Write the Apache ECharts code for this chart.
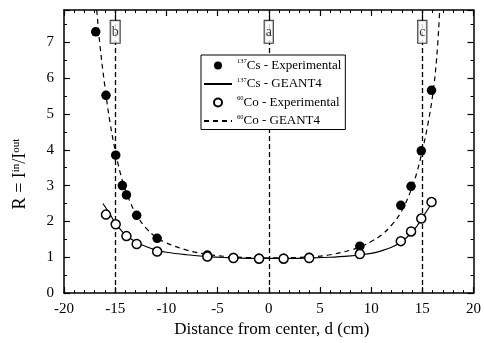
<!DOCTYPE html>
<html>
<head>
<meta charset="utf-8">
<script src="https://cdn.jsdelivr.net/npm/echarts@6/dist/echarts.min.js"></script>
<style>html,body{margin:0;padding:0;background:#fff}#c{width:484px;height:343px}</style>
</head>
<body>
<div id="c"></div>
<script>
// Experimental data
var csExp = [[-16.9,7.29],[-15.9,5.52],[-14.95,3.85],[-14.3,3.0],[-13.9,2.74],[-12.9,2.17],[-10.9,1.53],[-6.0,1.06],[-3.45,0.99],[-0.95,0.97],[1.45,0.97],[3.95,1.0],[8.9,1.31],[12.9,2.45],[13.9,2.98],[14.9,3.97],[15.9,5.66]];
var coExp = [[-15.9,2.19],[-14.95,1.92],[-13.9,1.59],[-12.9,1.37],[-10.9,1.16],[-6.0,1.02],[-3.45,0.98],[-0.95,0.96],[1.45,0.96],[3.95,0.98],[8.9,1.09],[12.9,1.45],[13.9,1.72],[14.9,2.08],[15.9,2.54]];
// GEANT4 curves
var solidCurve = [[-16.2,2.5],[-15.5,2.2],[-15,1.96],[-14.5,1.78],[-14,1.63],[-13,1.43],[-12,1.3],[-11,1.2],[-10,1.14],[-8,1.07],[-6,1.02],[-4,0.99],[-2,0.97],[0,0.97],[2,0.97],[4,0.98],[6,1.0],[8,1.04],[9,1.07],[10,1.11],[11,1.18],[12,1.28],[13,1.44],[14,1.7],[14.5,1.88],[15,2.1],[15.5,2.32],[16,2.55]];
var dashedCurve = [[-16.8,7.9],[-16.5,6.95],[-16,5.75],[-15.5,4.75],[-15,3.98],[-14.5,3.35],[-14,2.88],[-13,2.22],[-12,1.82],[-11,1.56],[-10,1.4],[-8,1.2],[-6,1.08],[-4,1.02],[-2,0.99],[0,0.98],[2,0.99],[4,1.01],[6,1.07],[8,1.2],[9,1.3],[10,1.44],[11,1.62],[12,1.9],[13,2.3],[14,2.95],[14.5,3.4],[15,3.97],[15.5,4.65],[16,5.5],[16.4,6.55],[16.7,7.9]];
var markX = [-15, 0, 15];
var markLbl = ['b', 'a', 'c'];
var legendNames = ['137Cs - Experimental', '137Cs - GEANT4', '60Co - Experimental', '60Co - GEANT4'];
var xTicks = [-20, 20, 5];
var yTicks = [0, 7.9, 1];

var serif = 'Liberation Serif';
var chart = echarts.init(document.getElementById('c'));
var labels = markX.map(function (x, i) { return { value: [x, 7.29], lbl: markLbl[i] }; });
function axisBase(split) {
  return {
    axisLine: { onZero: false, lineStyle: { color: '#000', width: 1.5 } },
    axisTick: { inside: true, length: 6, lineStyle: { color: '#000', width: 1.2 } },
    minorTick: { show: true, splitNumber: split, length: 3, lineStyle: { color: '#000', width: 1 } },
    splitLine: { show: false }
  };
}
function sup(name) {
  var m = name.match(/^(\d+)(.*)$/);
  return '{s|' + m[1] + '}{t|' + m[2] + '}';
}
chart.setOption({
  animation: false,
  backgroundColor: '#fff',
  grid: { left: 64, right: 5, top: 10, bottom: 45 },
  legend: {
    orient: 'vertical', left: 201, top: 55, z: 20,
    backgroundColor: '#fff', borderColor: '#000', borderWidth: 1,
    padding: [3, 4, 1, 2], itemGap: 3.5, itemWidth: 28, itemHeight: 8,
    data: legendNames,
    formatter: sup,
    textStyle: {
      fontFamily: serif, color: '#000', fontSize: 13, lineHeight: 15,
      rich: {
        s: { fontSize: 6.5, fontFamily: serif, color: '#000', verticalAlign: 'top', lineHeight: 15, padding: [0, 0, 6, 0] },
        t: { fontSize: 13, fontFamily: serif, color: '#000', lineHeight: 15 }
      }
    }
  },
  graphic: [{
    type: 'text', x: 20, y: 174, rotation: Math.PI / 2, silent: true,
    style: {
      text: 'R = I{s|in}/I{s|out}', fontFamily: serif, fontSize: 18, fill: '#000',
      align: 'center', verticalAlign: 'middle',
      rich: { s: { fontFamily: serif, fontSize: 11, fill: '#000', verticalAlign: 'top', padding: [0, 0, 8, 0] } }
    }
  }],
  xAxis: [
    Object.assign({ type: 'value', min: xTicks[0], max: xTicks[1], interval: xTicks[2],
      name: 'Distance from center, d (cm)', nameLocation: 'middle', nameGap: 25,
      nameTextStyle: { fontFamily: serif, fontSize: 17, color: '#000', padding: [0, 0, 0, 6] },
      axisLabel: { fontFamily: serif, fontSize: 15, color: '#000', margin: 8 } }, axisBase(5)),
    Object.assign({ type: 'value', position: 'top', min: xTicks[0], max: xTicks[1], interval: xTicks[2], axisLabel: { show: false } }, axisBase(5))
  ],
  yAxis: [
    Object.assign({ type: 'value', min: yTicks[0], max: yTicks[1], interval: yTicks[2],
      axisLabel: { fontFamily: serif, fontSize: 15, color: '#000', margin: 10,
        formatter: function (v) { return Math.abs(v - Math.round(v)) < 1e-6 ? String(Math.round(v)) : ''; } } },
      axisBase(2)),
    Object.assign({ type: 'value', position: 'right', min: yTicks[0], max: yTicks[1], interval: yTicks[2], axisLabel: { show: false } },
      axisBase(2))
  ],
  series: [
    { name: 'guides', type: 'line', data: [], silent: true, z: 1,
      markLine: { silent: true, symbol: 'none', label: { show: false }, z: 1,
        lineStyle: { color: '#000', type: [5, 3], width: 1.3 },
        data: markX.map(function (x) { return { xAxis: x }; }) } },
    { name: legendNames[1], type: 'line', data: solidCurve, smooth: 0.4, symbol: 'none',
      lineStyle: { color: '#000', width: 1.2 }, itemStyle: { color: '#000', opacity: 0 }, z: 3 },
    { name: legendNames[3], type: 'line', data: dashedCurve, smooth: 0.4, symbol: 'none',
      lineStyle: { color: '#000', width: 1.2, type: [5, 4] }, itemStyle: { color: '#000', opacity: 0 }, z: 3 },
    { name: legendNames[0], type: 'scatter', data: csExp, symbol: 'circle', symbolSize: 9.5,
      itemStyle: { color: '#000', opacity: 1 }, z: 4 },
    { name: legendNames[2], type: 'scatter', data: coExp, symbol: 'circle', symbolSize: 9,
      itemStyle: { color: '#fff', borderColor: '#000', borderWidth: 1.5, opacity: 1 }, z: 5 },
    { name: 'boxes', type: 'scatter', data: labels, symbolSize: 0, z: 6, silent: true,
      label: { show: true, position: 'inside', formatter: function (p) { return p.data.lbl; },
        fontFamily: serif, fontSize: 14, lineHeight: 15, color: '#000', backgroundColor: '#fff',
        borderColor: '#000', borderWidth: 1, padding: [4, 1, 3, 1] } }
  ]
});
</script>
</body>
</html>
